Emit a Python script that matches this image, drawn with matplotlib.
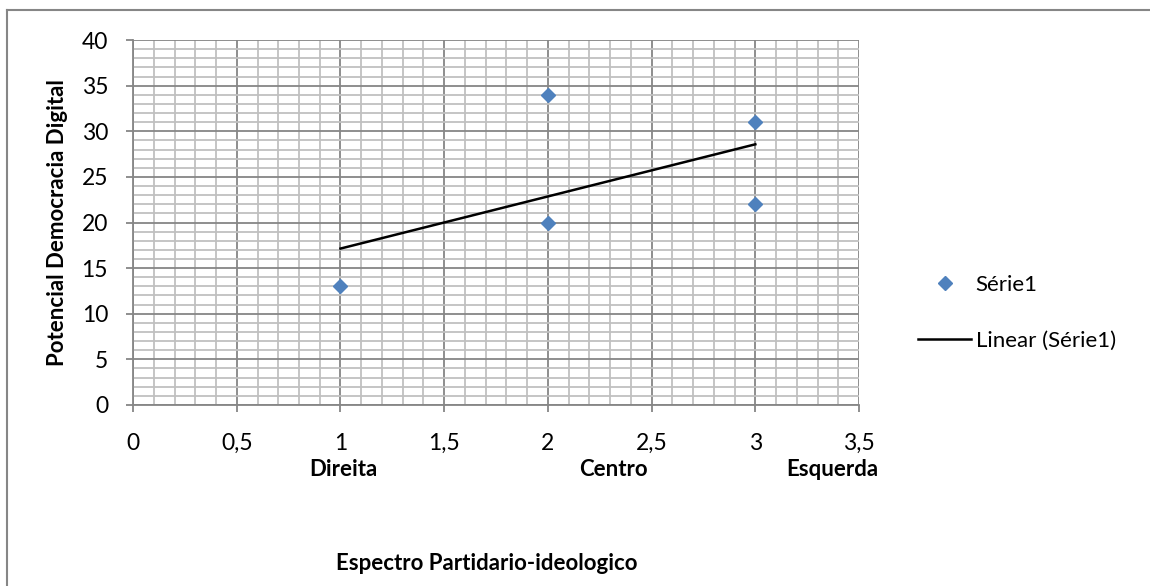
import numpy as np
import matplotlib as mpl
mpl.use('Agg')
import matplotlib.pyplot as plt
from matplotlib.ticker import MultipleLocator, FuncFormatter
from matplotlib.lines import Line2D

plt.rcParams['font.family'] = ['Lato', 'DejaVu Sans']

# party position (1 = direita, 2 = centro, 3 = esquerda) vs digital democracy score
espectro = [1, 2, 2, 3, 3]
potencial = [13, 34, 20, 31, 22]
grupos = ['Direita', 'Centro', 'Esquerda']

fig = plt.figure(figsize=(11.5, 5.86), dpi=100)
ax = fig.add_axes([0.1157, 0.3089, 0.6313, 0.6228])

ax.set_xlim(0, 3.5)
ax.set_ylim(0, 40)
ax.xaxis.set_major_locator(MultipleLocator(0.5))
ax.xaxis.set_minor_locator(MultipleLocator(0.1))
ax.yaxis.set_major_locator(MultipleLocator(5))
ax.yaxis.set_minor_locator(MultipleLocator(1))
ax.xaxis.set_major_formatter(FuncFormatter(lambda v, p: ('%g' % v).replace('.', ',')))

ax.grid(which='major', color='#868686', lw=1.3)
ax.grid(which='minor', color='#c0c0c0', lw=1.3)
ax.set_axisbelow(True)
for s in ['top', 'right']:
    ax.spines[s].set_visible(False)
for s in ['left', 'bottom']:
    ax.spines[s].set_color('#868686')
    ax.spines[s].set_linewidth(1.3)
ax.tick_params(which='major', length=5, width=1.3, color='#868686', labelsize=16.5)
ax.tick_params(which='minor', length=0)
ax.tick_params(axis='x', pad=15)
ax.tick_params(axis='y', pad=13)

ax.plot(espectro, potencial, 'D', color='#4F81BD', ms=7, mec='#4F81BD', zorder=3)

# least-squares trend line between the outer x values
coef = np.polyfit(espectro, potencial, 1)
xfit = np.array([min(espectro), max(espectro)])
ax.plot(xfit, np.polyval(coef, xfit), color='black', lw=1.8, zorder=3)

ax.set_ylabel('Potencial Democracia Digital', fontsize=16, fontweight='bold', labelpad=10)

# category captions under the x axis
for nome, xf in zip(grupos, [343 / 1150, 613 / 1150, 832 / 1150]):
    fig.text(xf, 1 - 470 / 586, nome, ha='center', va='center', fontsize=16, fontweight='bold')
fig.text(487 / 1150, 1 - 563 / 586, 'Espectro Partidario-ideologico', ha='center', va='center',
         fontsize=16, fontweight='bold')

handles = [Line2D([], [], ls='none', marker='D', color='#4F81BD', ms=7),
           Line2D([], [], color='black', lw=1.8)]
fig.legend(handles, ['Série1', 'Linear (Série1)'], loc='center left',
           bbox_to_anchor=(0.7813, 1 - 313 / 586), frameon=False, fontsize=16,
           handlelength=2.35, labelspacing=1.6, handletextpad=0.22)

# chart-area border
fig.add_artist(Line2D([7 / 1150, 7 / 1150], [0, 1 - 10 / 586], color='#868686', lw=1.5,
                      transform=fig.transFigure))
fig.add_artist(Line2D([7 / 1150, 1], [1 - 10 / 586, 1 - 10 / 586], color='#868686', lw=1.5,
                      transform=fig.transFigure))

fig.savefig('out.png', dpi=100)
